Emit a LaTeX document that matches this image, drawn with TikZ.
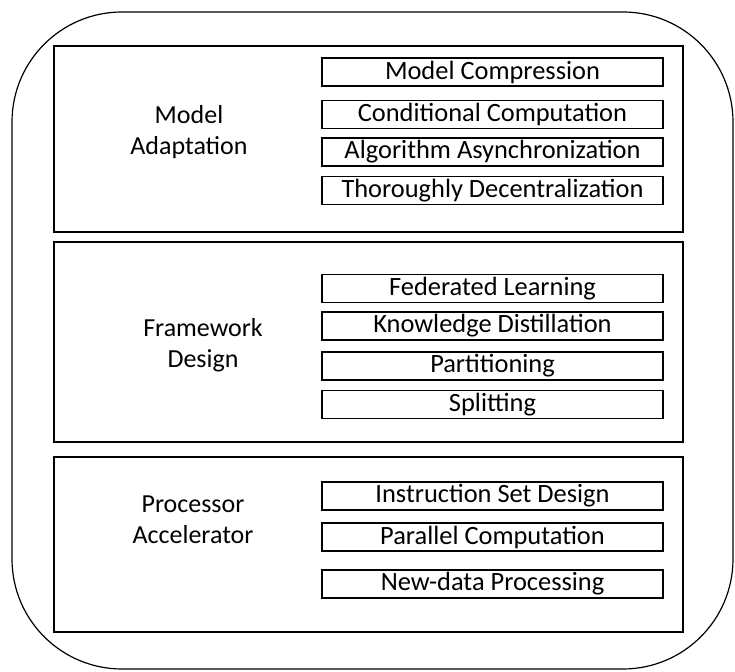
\documentclass[tikz,border=0pt]{standalone}
\usepackage{fontspec}
\setmainfont{Carlito}
\usepackage{tikz}
\usetikzlibrary{positioning}

\begin{document}
\begin{tikzpicture}[x=0.5pt,y=-0.5pt,
item/.style={draw,line width=0.75pt,inner sep=0pt,minimum width=170.5pt,minimum height=14pt,font=\fontsize{13.2}{15}\selectfont},
panel/.style={draw,line width=0.7pt,inner sep=0pt},
lbl/.style={align=center,font=\fontsize{13}{15.5}\selectfont}]
\useasboundingbox (0,0) rectangle (735,672);
\node[draw,line width=0.6pt,rounded corners=55pt,minimum width=360.5pt,minimum height=328.5pt] (outer) at (372.5,340.5) {};
% three panels
\node[panel,minimum width=314.5pt,minimum height=93pt] (adapt) at (368.5,139) {};
\node[panel,minimum width=314.5pt,minimum height=100pt] (frame) at (368.5,342) {};
\node[panel,minimum width=314.5pt,minimum height=87.5pt] (proc) at (368.5,544.5) {};
\node[lbl] (adaptlbl) at (189,132) {Model\\Adaptation};
\node[lbl] (framelbl) at (203,345) {Framework\\Design};
\node[lbl] (proclbl) at (193,520) {Processor\\Accelerator};
% techniques
\node[item] (compress) at (492.5,72) {Model Compression};
\node[item] (cond) at (492.5,114.5) {Conditional Computation};
\node[item] (async) at (492.5,152) {Algorithm Asynchronization};
\node[item] (decent) at (492.5,190.5) {Thoroughly Decentralization};
\node[item] (fed) at (492.5,288.5) {Federated Learning};
\node[item] (distill) at (492.5,326) {Knowledge Distillation};
\node[item] (part) at (492.5,366) {Partitioning};
\node[item] (split) at (492.5,404.5) {Splitting};
\node[item] (isa) at (492.5,496) {Instruction Set Design};
\node[item] (parallel) at (492.5,537) {Parallel Computation};
\node[item] (newdata) at (492.5,584) {New-data Processing};
\end{tikzpicture}
\end{document}
